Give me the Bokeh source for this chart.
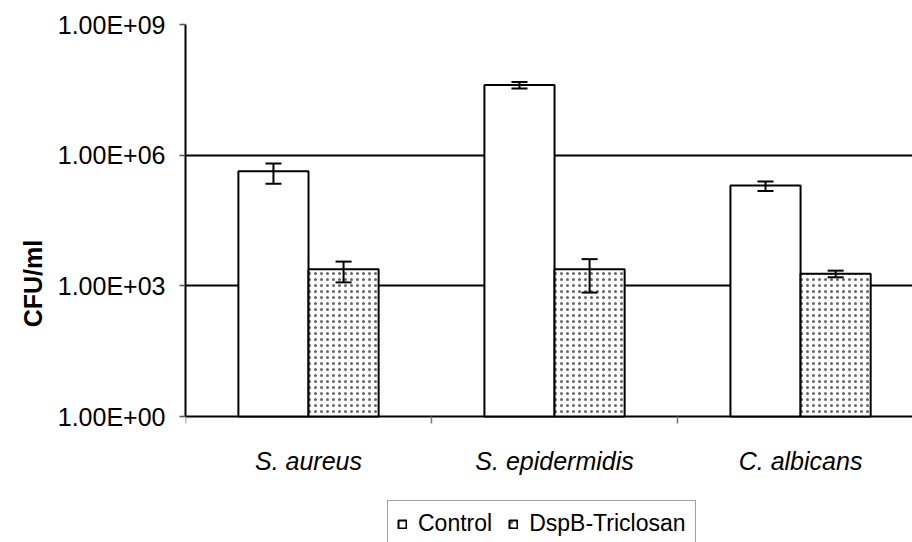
from bokeh.plotting import figure
from bokeh.models import (FixedTicker, LinearAxis, Whisker, TeeHead, Legend,
                          LegendItem, ColumnDataSource, Range1d)
from bokeh.embed import file_html
from bokeh.resources import INLINE

# Colony counts (CFU/ml) per organism, mean and standard deviation
categories = ["S. aureus", "S. epidermidis", "C. albicans"]
control = [4.3e5, 4.1e7, 2.0e5]
control_err = [2.1e5, 7.0e6, 5.0e4]
dspb_triclosan = [2.4e3, 2.4e3, 1.9e3]
dspb_triclosan_err = [1.2e3, 1.7e3, 3.3e2]
series_names = ["Control", "DspB-Triclosan"]

y_ticks = [1, 1e3, 1e6, 1e9]
y_tick_labels = ["1.00E+00", "1.00E+03", "1.00E+06", "1.00E+09"]

FONT = "Liberation Sans"
BAR_W = 0.285
centers = [i + 0.5 for i in range(len(categories))]
ctrl_x = [c - BAR_W / 2 for c in centers]
dspb_x = [c + BAR_W / 2 for c in centers]

# Layout: the value axis spans 1 .. 1e9 over the upper 392 px of the frame;
# the frame keeps going to the bottom of the canvas so the category names
# and the key can sit underneath the baseline.
W, H = 912, 542
TOP, BASE = 24, 416
px_per_decade = (BASE - TOP) / 9.0
y_start = 10 ** (-(H - BASE) / px_per_decade)

src_ctrl = ColumnDataSource(dict(
    x=ctrl_x, top=control,
    upper=[v + e for v, e in zip(control, control_err)],
    lower=[v - e for v, e in zip(control, control_err)]))
src_dspb = ColumnDataSource(dict(
    x=dspb_x, top=dspb_triclosan,
    upper=[v + e for v, e in zip(dspb_triclosan, dspb_triclosan_err)],
    lower=[v - e for v, e in zip(dspb_triclosan, dspb_triclosan_err)]))

p = figure(width=W, height=H, y_axis_type="log",
           x_range=Range1d(0, 2.955), y_range=Range1d(y_start, 1e9),
           output_backend="svg", toolbar_location=None,
           min_border_left=185, min_border_right=0,
           min_border_top=TOP, min_border_bottom=0,
           x_axis_location=None)
p.outline_line_color = None
p.background_fill_color = "white"
p.border_fill_color = "white"

# horizontal gridlines at each labelled decade (the one at 1 is the baseline)
p.xgrid.visible = False
p.ygrid.ticker = FixedTicker(ticks=y_ticks)
p.ygrid.grid_line_color = "black"
p.ygrid.grid_line_width = 1.8

# value axis
ya = p.yaxis[0]
ya.bounds = (1, 1e9)
ya.ticker = FixedTicker(ticks=y_ticks, minor_ticks=[])
ya.major_label_overrides = {t: l for t, l in zip(y_ticks, y_tick_labels)}
ya.major_label_text_font = FONT
ya.major_label_text_font_size = "25px"
ya.major_label_text_color = "black"
ya.major_label_standoff = 14
ya.axis_line_color = "black"
ya.axis_line_width = 2
ya.major_tick_line_color = "#555555"
ya.major_tick_line_width = 1.5
ya.major_tick_out = 6
ya.major_tick_in = 0
ya.minor_tick_line_color = None
ya.axis_label = "CFU/ml"
ya.axis_label_text_font = FONT
ya.axis_label_text_font_style = "bold"
ya.axis_label_text_font_size = "25px"
ya.axis_label_text_color = "black"
ya.axis_label_standoff = 8

# category axis, pinned to the baseline: boundary ticks between groups
xa_ticks = LinearAxis(ticker=FixedTicker(ticks=[0, 1, 2, 3], minor_ticks=[]),
                      fixed_location=1)
xa_ticks.major_label_overrides = {0: "", 1: "", 2: "", 3: ""}
xa_ticks.axis_line_color = None
xa_ticks.major_tick_line_color = "#777777"
xa_ticks.major_tick_line_width = 1.5
xa_ticks.major_tick_out = 7
xa_ticks.major_tick_in = 0
xa_ticks.minor_tick_line_color = None
p.add_layout(xa_ticks, "below")

# category names centred under each group
xa_labels = LinearAxis(ticker=FixedTicker(ticks=centers, minor_ticks=[]),
                       fixed_location=1)
xa_labels.major_label_overrides = {c: n for c, n in zip(centers, categories)}
xa_labels.major_label_text_font = FONT
xa_labels.major_label_text_font_style = "italic"
xa_labels.major_label_text_font_size = "25px"
xa_labels.major_label_text_color = "black"
xa_labels.major_label_standoff = 24
xa_labels.axis_line_color = None
xa_labels.major_tick_line_color = None
xa_labels.minor_tick_line_color = None
p.add_layout(xa_labels, "below")

r_ctrl = p.vbar(x="x", top="top", bottom=1, width=BAR_W, source=src_ctrl,
                fill_color="white", line_color="black", line_width=2)
r_dspb = p.vbar(x="x", top="top", bottom=1, width=BAR_W, source=src_dspb,
                fill_color="white", line_color="black", line_width=2,
                hatch_pattern="dot", hatch_color="black", hatch_scale=6,
                hatch_weight=0.4, hatch_alpha=0.6)

for src in (src_ctrl, src_dspb):
    p.add_layout(Whisker(
        base="x", upper="upper", lower="lower", source=src,
        dimension="height", line_color="black", line_width=2,
        level="overlay",
        upper_head=TeeHead(size=16, line_color="black", line_width=2),
        lower_head=TeeHead(size=16, line_color="black", line_width=2)))

legend = Legend(items=[LegendItem(label=series_names[0], renderers=[r_ctrl]),
                       LegendItem(label=series_names[1], renderers=[r_dspb])],
                orientation="horizontal", location=(202, -5),
                label_text_font=FONT, label_text_font_size="23px",
                label_text_color="black", glyph_width=10, glyph_height=10,
                label_standoff=11, spacing=16, padding=9, margin=0,
                border_line_color="#444444", border_line_width=1.2,
                background_fill_color="white", background_fill_alpha=1)
p.add_layout(legend, "center")

open("out.html", "w").write(file_html(p, INLINE))
